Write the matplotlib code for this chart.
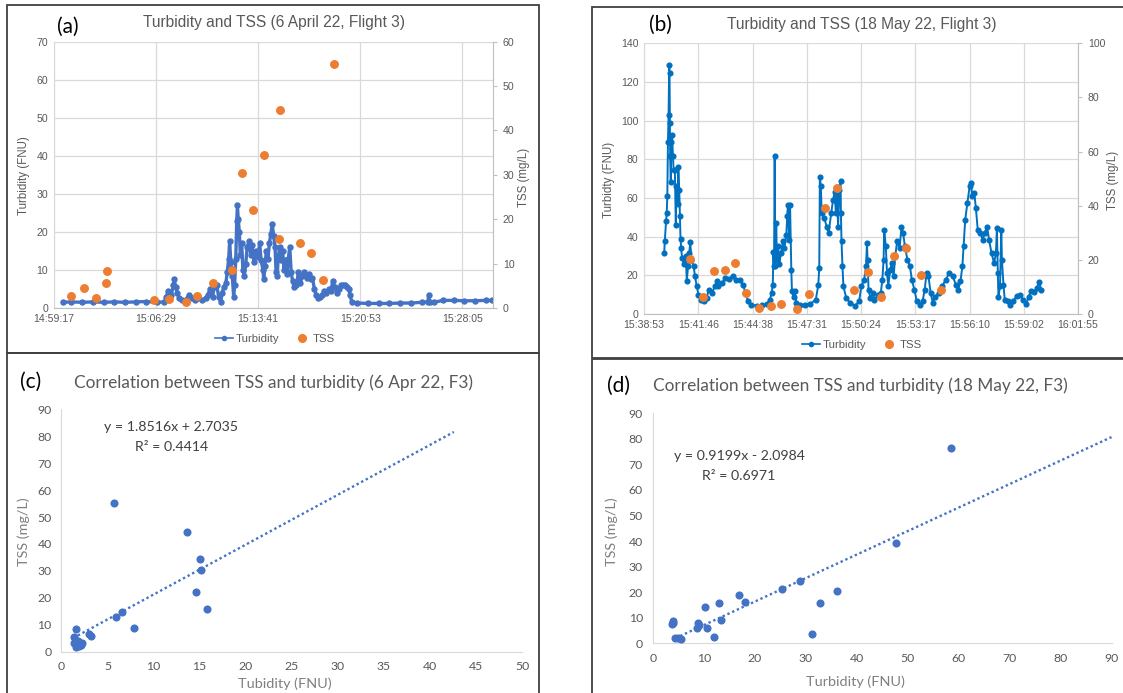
import numpy as np
import matplotlib.pyplot as plt
from matplotlib.lines import Line2D
from matplotlib.patches import Rectangle

W, H = 1123, 693

# ---- panel (a): 6 April 22, flight 3 (seconds after 14:59:17) ----
a_turb_t = [38, 75, 121, 166, 211, 257, 302, 347, 392, 438, 468, 477, 483, 489, 498, 506, 510, 516,
            522, 531, 543, 558, 574, 584, 596, 611, 626, 642, 652, 661, 672, 679, 690, 697, 706, 712,
            720, 728, 734, 740, 744, 749, 755, 761, 765, 770, 774, 777, 780, 785, 789, 795, 800, 806,
            812, 818, 826, 833, 839, 847, 854, 863, 871, 877, 885, 888, 893, 899, 906, 912, 918, 924,
            930, 936, 940, 945, 949, 955, 962, 968, 974, 980, 986, 992, 998, 1004, 1010, 1017, 1026,
            1035, 1043, 1051, 1060, 1069, 1078, 1087, 1094, 1102, 1109, 1117, 1126, 1135, 1144, 1153,
            1162, 1171, 1180, 1188, 1197, 1205, 1214, 1223, 1232, 1241, 1247, 1253, 1260, 1283, 1328,
            1374, 1419, 1464, 1509, 1555, 1582, 1585, 1589, 1608, 1645, 1691, 1736, 1781, 1826, 1854]
a_turb_v = [1.5, 1.6, 1.5, 1.6, 1.5, 1.6, 1.5, 1.6, 1.7, 1.5, 1.6, 3.0, 4.5, 2.5, 3.5, 6.0, 7.5, 5.5,
            4.0, 2.5, 2.0, 2.2, 3.5, 2.5, 2.0, 2.5, 2.0, 2.5, 3.5, 5.0, 3.0, 5.5, 6.0, 3.0, 1.5, 4.0,
            5.5, 6.5, 9.5, 13.0, 17.5, 12.0, 8.5, 3.0, 6.0, 13.0, 23.0, 27.0, 23.5, 20.0, 14.0, 17.0,
            10.0, 8.5, 11.5, 16.0, 17.5, 14.0, 16.5, 12.0, 15.0, 13.5, 17.0, 12.5, 10.0, 7.5, 11.0,
            15.0, 13.0, 17.0, 19.5, 22.0, 19.0, 16.0, 9.5, 8.5, 13.0, 16.0, 12.5, 15.0, 10.0, 12.5,
            9.0, 13.0, 16.0, 9.5, 7.0, 5.5, 6.0, 9.5, 6.5, 8.5, 9.5, 8.0, 9.0, 7.5, 8.0, 5.0, 3.5, 2.5,
            3.0, 3.5, 4.5, 4.0, 5.0, 4.5, 7.0, 5.5, 4.0, 5.0, 6.0, 6.0, 6.0, 5.5, 5.0, 3.5, 1.5, 1.3,
            1.2, 1.2, 1.2, 1.3, 1.3, 1.5, 1.6, 3.5, 1.6, 1.5, 2.0, 2.0, 1.9, 1.9, 2.0, 2.0]
a_tss_t = [72, 127, 178, 220, 226, 423, 486, 560, 608, 673, 752, 795, 844, 889, 957, 954, 1043, 1088, 1140, 1186]
a_tss_v = [2.6, 4.4, 2.3, 5.6, 8.4, 1.7, 2.0, 1.4, 2.7, 5.6, 8.6, 30.4, 22.0, 34.4, 44.5, 15.5, 14.6, 12.5, 6.2, 54.9]
a_tick_labels = ['14:59:17', '15:06:29', '15:13:41', '15:20:53', '15:28:05']

# ---- panel (b): 18 May 22, flight 3 (seconds after 15:38:53) ----
b_turb_t = [64, 66, 70, 72, 74, 76, 78, 80, 81, 82, 83, 85, 87, 89, 92, 94, 98, 101, 103, 107, 109, 112,
            114, 116, 118, 121, 127, 133, 136, 140, 144, 147, 151, 158, 162, 168, 173, 182, 191, 199,
            206, 215, 226, 232, 237, 248, 259, 271, 282, 293, 304, 315, 324, 331, 342, 359, 375, 392,
            401, 406, 410, 412, 414, 416, 418, 421, 423, 427, 431, 436, 442, 447, 453, 456, 458, 462,
            465, 469, 471, 476, 480, 485, 497, 513, 530, 547, 555, 558, 560, 563, 566, 574, 582, 588,
            596, 602, 607, 611, 615, 618, 622, 626, 627, 629, 632, 635, 644, 657, 673, 685, 692, 701,
            707, 710, 712, 715, 721, 729, 734, 745, 754, 759, 763, 765, 770, 774, 778, 784, 789, 795,
            800, 806, 814, 820, 825, 831, 839, 847, 853, 861, 869, 878, 887, 894, 900, 906, 913, 920,
            927, 938, 949, 961, 972, 983, 994, 1001, 1008, 1014, 1018, 1023, 1030, 1037, 1041, 1046,
            1052, 1057, 1063, 1071, 1079, 1085, 1093, 1099, 1107, 1115, 1121, 1124, 1127, 1129, 1134,
            1138, 1140, 1145, 1149, 1159, 1167, 1176, 1187, 1198, 1207, 1218, 1225, 1233, 1242, 1251,
            1259, 1266]
b_turb_v = [31.5, 38, 48, 52, 61, 89, 103, 129, 124.5, 98.7, 81.5, 68.5, 89, 92.6, 81.5, 74.6, 74.6, 46,
            66, 57, 76, 64, 50.5, 39, 34, 29, 26, 30, 17, 24.6, 31.5, 37, 28, 24.6, 19.5, 14.3, 10, 7.4,
            6.5, 8.3, 12.6, 10.8, 14.3, 17, 14.3, 16, 18.6, 18, 19.8, 17.4, 17.7, 15, 10.8, 6.5, 4.8,
            4.3, 4.8, 5.2, 7.4, 10.8, 15, 32, 24.6, 81.5, 24.6, 47, 28, 35, 26, 31.5, 37.5, 34, 41,
            50.5, 56.5, 38.4, 56.5, 23, 11.7, 9, 11.7, 5.7, 4.8, 4.8, 5.3, 7.4, 15, 23.8, 71, 66, 52,
            49.6, 45, 42, 52, 59, 63, 52, 62.5, 45, 64, 69, 52, 37.5, 24.6, 14.3, 8.3, 5.7, 4.3, 6.5,
            14.3, 17.7, 24.6, 36.7, 28, 12.6, 8.3, 10.8, 7.4, 10, 10.8, 17.7, 28, 43.6, 35, 21.2, 14.3,
            23, 26.3, 19.5, 29.8, 37.5, 34, 45, 42, 35, 28, 24.6, 17.7, 12.6, 6.5, 4.8, 6.5, 12.6, 21.2,
            19.5, 10.8, 5.7, 9, 10.8, 14.3, 17.7, 21.2, 19.5, 15, 12.6, 17, 24.6, 35, 48.7, 57.3, 66,
            67.7, 60.8, 62.5, 54.8, 43.6, 42, 38.4, 42, 45, 38.4, 31.5, 26.3, 31.5, 44.4, 21.2, 9,
            14.3, 43.6, 28, 15, 7.4, 6.5, 4.8, 6.5, 9.5, 10, 7.4, 5.3, 9, 11.7, 11.2, 13.4, 16.4, 12.2]
b_tss_t = [147, 188, 223, 258, 290, 324, 367, 403, 437, 488, 525, 576, 616, 670, 712, 756, 797, 836, 883, 945]
b_tss_v = [20.5, 6.3, 16.0, 16.1, 18.7, 7.7, 2.3, 2.8, 3.7, 2.0, 7.5, 39.2, 46.4, 9.0, 15.6, 6.4, 21.4, 24.5, 14.4, 8.9]
b_tick_labels = ['15:38:53', '15:41:46', '15:44:38', '15:47:31', '15:50:24',
                 '15:53:17', '15:56:10', '15:59:02', '16:01:55']

# ---- panel (c): correlation 6 Apr 22 ----
c_turb = [5.66, 13.64, 15.04, 15.2, 14.6, 15.85, 6.59, 5.97, 7.83, 1.55, 3.02, 3.26, 1.32, 2.25,
          1.67, 1.55, 1.94, 1.78, 1.4, 2.1]
c_tss = [55.1, 44.6, 34.4, 30.5, 22.3, 15.7, 14.7, 12.75, 8.67, 8.54, 6.56, 5.82, 5.57, 3.1,
         2.48, 1.86, 2.1, 3.96, 3.3, 2.6]
c_fit = (1.8516, 2.7035)
c_fit_x = [1.3, 42.6]

# ---- panel (d): correlation 18 May 22 ----
d_turb = [58.6, 47.7, 28.9, 25.4, 36.1, 32.9, 31.2, 17.0, 18.1, 13.0, 10.3, 13.4, 10.7, 12.1,
          8.9, 8.7, 9.0, 3.9, 3.8, 3.9, 4.3, 5.6, 5.0]
d_tss = [76.3, 39.4, 24.4, 21.1, 20.5, 15.8, 3.5, 18.8, 16.2, 15.9, 14.3, 9.0, 6.1, 2.6,
         7.8, 6.1, 7.2, 8.9, 7.4, 8.1, 2.2, 1.8, 2.1]
d_fit = (0.9199, -2.0984)
d_fit_x = [5.4, 90]

ARIAL = 'Liberation Sans'
CALIBRI = 'Lato'
GRID = '#D9D9D9'
TXT = '#595959'
ORANGE = '#ED7D31'


def fx(px):
    return px / W


def fy(py):
    return 1 - py / H


def box(l, t, r, b):
    return [fx(l), fy(b), fx(r) - fx(l), fy(t) - fy(b)]


fig = plt.figure(figsize=(W / 100, H / 100), dpi=100)

# panel frames
for (l, t, r, b) in [(7.3, 5, 538.7, 352.7), (7.3, 352.7, 538.7, 700),
                     (591.7, 7.3, 1130, 358.3), (591.7, 359.5, 1130, 700)]:
    fig.add_artist(Rectangle((fx(l), fy(b)), fx(r) - fx(l), fy(t) - fy(b),
                             transform=fig.transFigure, fill=False,
                             edgecolor='#404040', lw=1.3))


def time_panel(rect, step, nsteps, ymax, ystep, y2max, y2step, labels,
               t, v, tt, tv, lcol, lw, ms):
    ax = fig.add_axes(rect)
    ax.plot(t, v, color=lcol, lw=lw, marker='o', ms=ms, mec=lcol, mfc=lcol, zorder=3,
            solid_joinstyle='round')
    ax.set_xlim(0, step * nsteps)
    ax.set_ylim(0, ymax)
    ax.set_xticks([step * i for i in range(len(labels))])
    ax.set_xticklabels(labels)
    ax.set_yticks(np.arange(0, ymax + 1, ystep))
    ax.grid(True, color=GRID, lw=0.9)
    ax.set_axisbelow(True)
    for s in ['top', 'right']:
        ax.spines[s].set_visible(False)
    ax.spines['left'].set_color(GRID)
    ax.spines['bottom'].set_color('#BFBFBF')
    ax.tick_params(length=0, labelsize=7.6, labelcolor=TXT, pad=4)
    for lab in ax.get_xticklabels() + ax.get_yticklabels():
        lab.set_fontfamily(ARIAL)
    ax2 = ax.twinx()
    ax2.plot(tt, tv, 'o', color=ORANGE, ms=5.4, zorder=4)
    ax2.set_ylim(0, y2max)
    ax2.set_yticks(np.arange(0, y2max + 1, y2step))
    for s in ['top', 'left', 'bottom']:
        ax2.spines[s].set_visible(False)
    ax2.spines['right'].set_color('#BFBFBF')
    ax2.tick_params(axis='y', length=3, color='#BFBFBF', labelsize=7.6, labelcolor=TXT, pad=4)
    for lab in ax2.get_yticklabels():
        lab.set_fontfamily(ARIAL)
    return ax, ax2


def add_legend(cx, cy, lcol):
    h = [Line2D([0], [0], color=lcol, lw=1.2, marker='o', ms=3),
         Line2D([0], [0], color=ORANGE, lw=0, marker='o', ms=5.5)]
    fig.legend(h, ['Turbidity', 'TSS'], loc='center', bbox_to_anchor=(fx(cx), fy(cy)),
               ncol=2, frameon=False, handlelength=1.6, handletextpad=0.2, columnspacing=1.2,
               prop={'family': ARIAL, 'size': 8.2}, labelcolor=TXT)


# (a)
time_panel(box(53.6, 41.7, 493, 308), 432, 1857 / 432, 70, 10, 60, 10, a_tick_labels,
           a_turb_t, a_turb_v, a_tss_t, a_tss_v, '#4472C4', 2.4, 3.6)
fig.text(fx(274), fy(23), 'Turbidity and TSS (6 April 22, Flight 3)', ha='center', va='center',
         fontsize=11.2, color=TXT, family=ARIAL)
fig.text(fx(68), fy(27), '(a)', ha='center', va='center', fontsize=15, family=CALIBRI)
fig.text(fx(24), fy(176), 'Turbidity (FNU)', rotation=90, ha='center', va='center',
         fontsize=8.3, color=TXT, family=ARIAL)
fig.text(fx(524), fy(177), 'TSS (mg/L)', rotation=90, ha='center', va='center',
         fontsize=8.3, color=TXT, family=ARIAL)
add_legend(275, 339, '#4472C4')

# (b)
time_panel(box(644.1, 43.3, 1078, 314), 172.8, 8, 140, 20, 100, 20, b_tick_labels,
           b_turb_t, b_turb_v, b_tss_t, b_tss_v, '#0070C0', 1.4, 3.4)
fig.text(fx(862), fy(25), 'Turbidity and TSS (18 May 22, Flight 3)', ha='center', va='center',
         fontsize=11.2, color=TXT, family=ARIAL)
fig.text(fx(660), fy(25), '(b)', ha='center', va='center', fontsize=15, family=CALIBRI)
fig.text(fx(609), fy(180), 'Turbidty (FNU)', rotation=90, ha='center', va='center',
         fontsize=8.3, color=TXT, family=ARIAL)
fig.text(fx(1113), fy(180), 'TSS (mg/L)', rotation=90, ha='center', va='center',
         fontsize=8.3, color=TXT, family=ARIAL)
add_legend(862, 345, '#0070C0')


def scatter_panel(rect, xs, ys, xmax, xstep, fit, fit_x):
    ax = fig.add_axes(rect)
    ax.scatter(xs, ys, s=34, color='#4472C4', zorder=3, linewidths=0)
    fx_ = np.array(fit_x)
    ax.plot(fx_, fit[0] * fx_ + fit[1], color='#4472C4', lw=1.7, ls=(0, (1, 1.2)), zorder=2)
    ax.set_xlim(0, xmax)
    ax.set_ylim(0, 90)
    ax.set_xticks(np.arange(0, xmax + 1, xstep))
    ax.set_yticks(np.arange(0, 91, 10))
    for s in ['top', 'right']:
        ax.spines[s].set_visible(False)
    ax.spines['left'].set_color(GRID)
    ax.spines['bottom'].set_color(GRID)
    ax.tick_params(length=0, labelsize=8.8, labelcolor=TXT, pad=7)
    for lab in ax.get_xticklabels() + ax.get_yticklabels():
        lab.set_fontfamily(CALIBRI)
    return ax


# (c)
scatter_panel(box(61.4, 409.3, 522, 651.7), c_turb, c_tss, 50, 5, c_fit, c_fit_x)
fig.text(fx(273), fy(383), 'Correlation between TSS and turbidity (6 Apr 22, F3)', ha='center',
         va='center', fontsize=12.4, color=TXT, family=CALIBRI)
fig.text(fx(31), fy(382), '(c)', ha='center', va='center', fontsize=15, family=CALIBRI)
fig.text(fx(171), fy(427), 'y = 1.8516x + 2.7035', ha='center', va='center', fontsize=10.2,
         color='#404040', family=CALIBRI)
fig.text(fx(172), fy(447), 'R² = 0.4414', ha='center', va='center', fontsize=10.2,
         color='#404040', family=CALIBRI)
fig.text(fx(285), fy(684), 'Tubidity (FNU)', ha='center', va='center', fontsize=10.4,
         color='#7F7F7F', family=CALIBRI)
fig.text(fx(24), fy(532), 'TSS (mg/L)', rotation=90, ha='center', va='center', fontsize=10.4,
         color='#7F7F7F', family=CALIBRI)

# (d)
scatter_panel(box(652.7, 413.3, 1111.5, 643.3), d_turb, d_tss, 90, 10, d_fit, d_fit_x)
fig.text(fx(860), fy(386), 'Correlation between TSS and turbidity (18 May 22, F3)', ha='center',
         va='center', fontsize=12.4, color=TXT, family=CALIBRI)
fig.text(fx(618), fy(386), '(d)', ha='center', va='center', fontsize=15, family=CALIBRI)
fig.text(fx(739), fy(456), 'y = 0.9199x - 2.0984', ha='center', va='center', fontsize=10.2,
         color='#404040', family=CALIBRI)
fig.text(fx(739), fy(476), 'R² = 0.6971', ha='center', va='center', fontsize=10.2,
         color='#404040', family=CALIBRI)
fig.text(fx(855), fy(682), 'Turbidity (FNU)', ha='center', va='center', fontsize=10.4,
         color='#7F7F7F', family=CALIBRI)
fig.text(fx(612), fy(532), 'TSS (mg/L)', rotation=90, ha='center', va='center', fontsize=10.4,
         color='#7F7F7F', family=CALIBRI)

fig.savefig('out.png', dpi=100)
